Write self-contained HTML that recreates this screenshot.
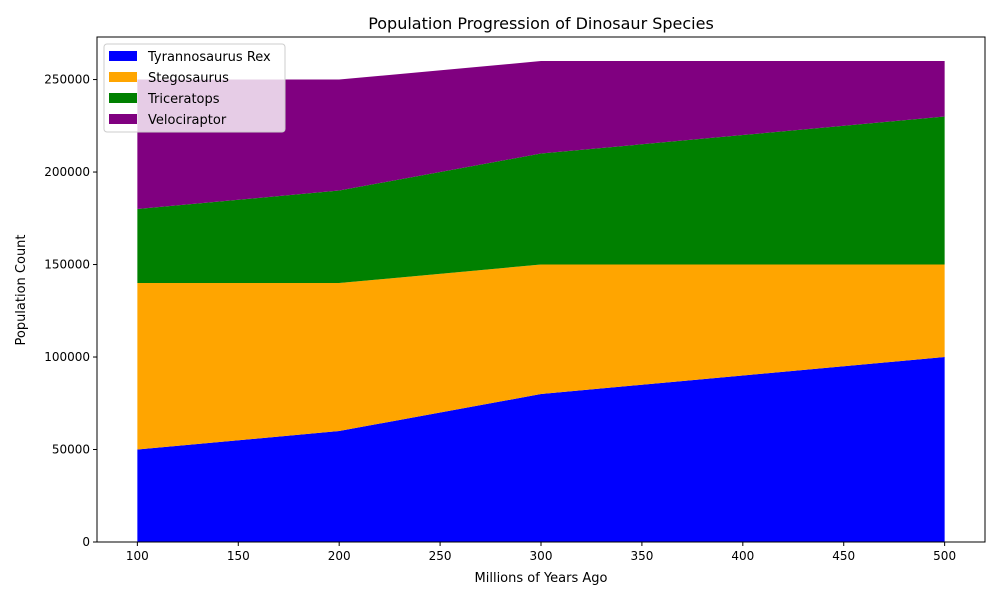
<!DOCTYPE html>
<html><head><meta charset="utf-8"><style>
body{margin:0;background:#fff;font-family:"Liberation Sans","DejaVu Sans",sans-serif}
svg text{font-family:"DejaVu Sans","Liberation Sans",sans-serif;fill:#000}
</style></head><body>
<svg id="chart" width="1000" height="600" viewBox="0 0 1000 600">
<rect width="1000" height="600" fill="#fff"/>
<g id="areas"></g>
<g id="axes"></g>
<text x="541" y="29" font-size="16" text-anchor="middle">Population Progression of Dinosaur Species</text>
<text x="541" y="582" font-size="13" text-anchor="middle">Millions of Years Ago</text>
<text x="25" y="290" font-size="13" text-anchor="middle" transform="rotate(-90 25 290)">Population Count</text>
<g id="legend"></g>
</svg>
<script>
const years=[100,200,300,400,500];
const seriesNames=["Tyrannosaurus Rex","Stegosaurus","Triceratops","Velociraptor"];
const trex=[50000,60000,80000,90000,100000];
const stego=[90000,80000,70000,60000,50000];
const trice=[40000,50000,60000,70000,80000];
const velo=[70000,60000,50000,40000,30000];
const colors=["#0000ff","#ffa500","#008000","#800080"];
const xTicks=[100,150,200,250,300,350,400,450,500];
const yTicks=[0,50000,100000,150000,200000,250000];

const L=97,R=985,T=37,B=542;
const all=[trex,stego,trice,velo];
const totals=years.map((_,i)=>all.reduce((s,a)=>s+a[i],0));
const xmin=Math.min(...years),xmax=Math.max(...years),xr=xmax-xmin;
const x0=xmin-0.05*xr,x1=xmax+0.05*xr;
const ymax=Math.max(...totals)*1.05;
const sx=v=>L+(v-x0)/(x1-x0)*(R-L);
const sy=v=>B-v/ymax*(B-T);
const NS="http://www.w3.org/2000/svg";
const mk=(t,a,p)=>{const e=document.createElementNS(NS,t);for(const k in a)e.setAttribute(k,a[k]);p.appendChild(e);return e;};
const ga=document.getElementById('areas');
let base=years.map(()=>0);
all.forEach((s,k)=>{
  const top=base.map((b,i)=>b+s[i]);
  let d=years.map((y,i)=>(i?'L':'M')+sx(y)+','+sy(top[i])).join('');
  for(let i=years.length-1;i>=0;i--)d+='L'+sx(years[i])+','+sy(base[i]);
  const p=mk('path',{d:d+'Z',fill:colors[k]},ga);
  
  
  base=top;
});
const ax=document.getElementById('axes');
mk('rect',{x:L,y:T,width:R-L,height:B-T,fill:'none',stroke:'#000','stroke-width':1},ax);
xTicks.forEach(v=>{const x=sx(v);mk('line',{x1:x,x2:x,y1:B,y2:B+4,stroke:'#000'},ax);
  const t=mk('text',{x:x,y:B+18,'font-size':12,'text-anchor':'middle'},ax);t.textContent=v;
  
  });
yTicks.forEach(v=>{const y=sy(v);mk('line',{x1:L-4,x2:L,y1:y,y2:y,stroke:'#000'},ax);
  const t=mk('text',{x:L-7,y:y+4,'font-size':12,'text-anchor':'end'},ax);t.textContent=v;
  
  });
const lg=document.getElementById('legend');


mk('rect',{x:104,y:44,width:181,height:88,rx:3,fill:'#fff','fill-opacity':0.8,stroke:'#ccc'},lg);
seriesNames.forEach((n,i)=>{const y=51+i*21;
  const g=mk('g',{},lg);
  
  
  mk('rect',{x:109,y:y,width:28,height:10,fill:colors[i]},g);
  const t=mk('text',{x:148,y:y+10,'font-size':13},g);t.textContent=n;});
</script>
</body></html>
